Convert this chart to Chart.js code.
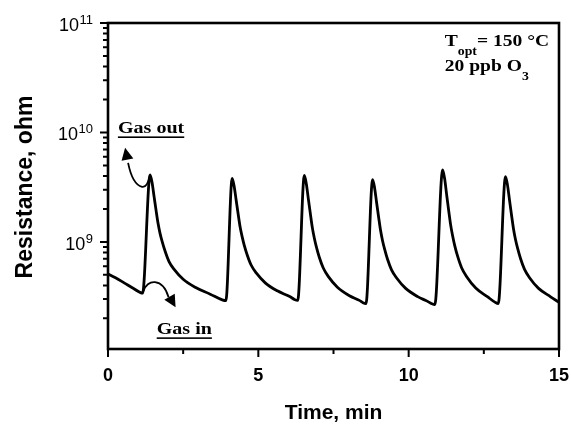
<!DOCTYPE html>
<html>
<head>
<meta charset="utf-8">
<script src="https://cdn.jsdelivr.net/npm/chart.js@4.4.0/dist/chart.umd.min.js"></script>
<style>
  html, body { margin: 0; padding: 0; background: #fff; }
  canvas { display: block; }
</style>
</head>
<body>
<canvas id="chart" width="571" height="424"></canvas>
<script>
// ── Data ──
const timeMin = [
  0.00, 0.25, 0.55, 0.85, 1.15,
  1.40, 1.467, 1.533, 1.60, 1.666, 1.733, 1.80, 1.90, 2.03, 2.20, 2.50, 2.90, 3.40, 3.80, 3.92,
  4.13, 4.197, 4.263, 4.33, 4.396, 4.463, 4.53, 4.63, 4.76, 4.93, 5.23, 5.63, 6.06, 6.20, 6.31,
  6.53, 6.597, 6.663, 6.73, 6.796, 6.863, 6.93, 7.03, 7.16, 7.33, 7.63, 8.03, 8.36, 8.48, 8.58,
  8.80, 8.867, 8.933, 9.00, 9.066, 9.133, 9.20, 9.30, 9.43, 9.60, 9.90, 10.30, 10.63, 10.77, 10.87,
  11.13, 11.197, 11.263, 11.33, 11.396, 11.463, 11.53, 11.63, 11.76, 11.93, 12.23, 12.63, 12.88, 12.98,
  13.22, 13.287, 13.353, 13.42, 13.486, 13.553, 13.62, 13.72, 13.85, 14.02, 14.32, 14.72, 15.00
];
const resistanceOhm = [
  5.1e8, 4.7e8, 4.2e8, 3.75e8, 3.4e8,
  4.1e9, 3.47e9, 2.59e9, 1.93e9, 1.47e9, 1.19e9, 1.01e9, 8.2e8, 6.6e8, 5.6e8, 4.55e8, 3.85e8, 3.33e8, 2.95e8, 2.9e8,
  3.8e9, 3.21e9, 2.40e9, 1.79e9, 1.36e9, 1.11e9, 9.35e8, 7.6e8, 6.15e8, 5.2e8, 4.22e8, 3.57e8, 3.15e8, 2.98e8, 2.92e8,
  4.05e9, 3.38e9, 2.47e9, 1.81e9, 1.35e9, 1.08e9, 9.0e8, 7.2e8, 5.77e8, 4.81e8, 3.85e8, 3.22e8, 2.92e8, 2.78e8, 2.73e8,
  3.7e9, 3.11e9, 2.29e9, 1.69e9, 1.27e9, 1.02e9, 8.6e8, 6.9e8, 5.56e8, 4.68e8, 3.76e8, 3.16e8, 2.86e8, 2.72e8, 2.67e8,
  4.55e9, 3.77e9, 2.70e9, 1.94e9, 1.43e9, 1.13e9, 9.3e8, 7.36e8, 5.81e8, 4.81e8, 3.79e8, 3.14e8, 2.80e8, 2.73e8,
  3.95e9, 3.30e9, 2.42e9, 1.77e9, 1.32e9, 1.05e9, 8.8e8, 7.05e8, 5.64e8, 4.7e8, 3.76e8, 3.15e8, 2.8e8
];

const xMajorTicks = [0, 5, 10, 15];
const xMinorTicks = [2.5, 7.5, 12.5];
const yLabelExps = [9, 10, 11];        // labelled powers of ten
const yMinorDecades = [8, 9, 10];
const yMinorSteps = [2, 3, 4, 5, 6, 7, 8, 9];

// annotation anchors (time, ohm)
const gasOutPeak = [1.40, 4.1e9];
const gasInValley = [1.15, 3.4e8];
const gasOutLabel = [0.33, 9.8e9];
const gasInLabel = [1.62, 1.43e8];
const condLabel = [11.2, 6.2e10];

const points = timeMin.map((t, i) => ({ x: t, y: resistanceOhm[i] }));

const SERIF = "'Liberation Serif', 'Times New Roman', serif";
const SANS = "'Liberation Sans', Arial, sans-serif";

// serif text, stretched a little horizontally like the source figure
function serifText(ctx, txt, x, y, size, stretch = 1.18) {
  ctx.save();
  ctx.font = `bold ${size}px ${SERIF}`;
  ctx.translate(x, y);
  ctx.scale(stretch, 1);
  ctx.fillText(txt, 0, 0);
  const w = ctx.measureText(txt).width * stretch;
  ctx.restore();
  return w;
}

function arrowHead(ctx, tipX, tipY, fromX, fromY, len, half) {
  const ang = Math.atan2(tipY - fromY, tipX - fromX);
  const bx = tipX - len * Math.cos(ang), by = tipY - len * Math.sin(ang);
  ctx.beginPath();
  ctx.moveTo(tipX, tipY);
  ctx.lineTo(bx + half * Math.sin(ang), by - half * Math.cos(ang));
  ctx.lineTo(bx - half * Math.sin(ang), by + half * Math.cos(ang));
  ctx.closePath();
  ctx.fill();
}

const framePlugin = {
  id: 'frame',
  afterDraw(chart) {
    const { ctx, chartArea: a, scales: { x, y } } = chart;
    const P = (t, r) => [x.getPixelForValue(t), y.getPixelForValue(r)];
    ctx.save();
    ctx.strokeStyle = '#000';
    ctx.fillStyle = '#000';

    // box
    ctx.lineWidth = 2.6;
    ctx.strokeRect(a.left, a.top, a.right - a.left, a.bottom - a.top);

    // tick marks (outward)
    ctx.lineWidth = 2;
    ctx.beginPath();
    xMajorTicks.forEach(v => { const px = x.getPixelForValue(v); ctx.moveTo(px, a.bottom); ctx.lineTo(px, a.bottom + 8); });
    xMinorTicks.forEach(v => { const px = x.getPixelForValue(v); ctx.moveTo(px, a.bottom); ctx.lineTo(px, a.bottom + 5); });
    yLabelExps.forEach(e => { const py = y.getPixelForValue(Math.pow(10, e)); ctx.moveTo(a.left, py); ctx.lineTo(a.left - 8, py); });
    yMinorDecades.forEach(e => yMinorSteps.forEach(k => {
      const v = k * Math.pow(10, e);
      if (v < y.min || v > y.max) return;
      const py = y.getPixelForValue(v);
      ctx.moveTo(a.left, py); ctx.lineTo(a.left - 5, py);
    }));
    ctx.stroke();

    // x tick labels
    ctx.font = `bold 18px ${SANS}`;
    ctx.textAlign = 'center';
    ctx.textBaseline = 'alphabetic';
    xMajorTicks.forEach(v => ctx.fillText(String(v), x.getPixelForValue(v), a.bottom + 32));

    // y tick labels 10^n
    ctx.textAlign = 'right';
    yLabelExps.forEach(e => {
      const py = y.getPixelForValue(Math.pow(10, e));
      const right = a.left - 15;
      ctx.font = `13px ${SANS}`;
      const sup = String(e);
      const sw = ctx.measureText(sup).width;
      ctx.fillText(sup, right, py + 1);
      ctx.font = `18px ${SANS}`;
      ctx.fillText('10', right - sw - 0.5, py + 8);
    });

    // axis titles
    ctx.textAlign = 'center';
    ctx.font = `bold 21px ${SANS}`;
    ctx.fillText('Time, min', (a.left + a.right) / 2, 419);
    ctx.save();
    ctx.translate(32, (a.top + a.bottom) / 2 + 1);
    ctx.rotate(-Math.PI / 2);
    ctx.font = `bold 23px ${SANS}`;
    ctx.fillText('Resistance, ohm', 0, 0);
    ctx.restore();

    // annotations
    ctx.textAlign = 'left';
    let [lx, ly] = P(...gasOutLabel);
    let w = serifText(ctx, 'Gas out', lx, ly, 17);
    ctx.fillRect(lx, ly + 3, w, 1.6);
    [lx, ly] = P(...gasInLabel);
    w = serifText(ctx, 'Gas in', lx, ly, 17);
    ctx.fillRect(lx, ly + 3, w, 1.6);

    [lx, ly] = P(...condLabel);
    let cw = serifText(ctx, 'T', lx, ly, 17, 1.15);
    cw += serifText(ctx, 'opt', lx + cw, ly + 9, 12, 1.15);
    serifText(ctx, '= 150 \u00B0C', lx + cw, ly, 17, 1.15);
    const dw = serifText(ctx, '20 ppb O', lx, ly + 25, 17, 1.15);
    serifText(ctx, '3', lx + dw, ly + 34, 12, 1.15);

    // gas-out arrow: from the first peak, a dip, then up-left
    ctx.lineWidth = 1.8;
    const [ox, oy] = P(...gasOutPeak);
    ctx.beginPath();
    ctx.moveTo(ox - 0.5, oy + 2);
    ctx.quadraticCurveTo(ox - 3, oy + 13, ox - 8, oy + 12);
    ctx.bezierCurveTo(ox - 16, oy + 10, ox - 20, oy - 2, ox - 22, oy - 12);
    ctx.stroke();
    arrowHead(ctx, ox - 25, oy - 27, ox - 22, oy - 12, 12, 6);

    // gas-in arrow: from the first valley, a hump, then down-right
    const [ix, iy] = P(...gasInValley);
    ctx.beginPath();
    ctx.moveTo(ix + 1, iy - 2);
    ctx.bezierCurveTo(ix + 4, iy - 14, ix + 20, iy - 16, ix + 26, iy + 4);
    ctx.stroke();
    arrowHead(ctx, ix + 33, iy + 14, ix + 26, iy + 2, 12, 6);

    ctx.restore();
  }
};

new Chart(document.getElementById('chart'), {
  type: 'line',
  data: {
    datasets: [{
      data: points,
      borderColor: '#000',
      borderWidth: 2.8,
      pointRadius: 0,
      cubicInterpolationMode: 'monotone',
      fill: false
    }]
  },
  options: {
    responsive: false,
    animation: false,
    layout: { padding: { left: 0, top: 23, right: 12, bottom: 0 } },
    plugins: { legend: { display: false }, tooltip: { enabled: false } },
    scales: {
      x: {
        type: 'linear', min: 0, max: 15,
        grid: { display: false }, border: { display: false },
        ticks: { display: false },
        afterFit: s => { s.height = 75; }
      },
      y: {
        type: 'logarithmic', min: 1.05e8, max: 1e11,
        grid: { display: false }, border: { display: false },
        ticks: { display: false },
        afterFit: s => { s.width = 108; }
      }
    }
  },
  plugins: [framePlugin]
});
</script>
</body>
</html>
